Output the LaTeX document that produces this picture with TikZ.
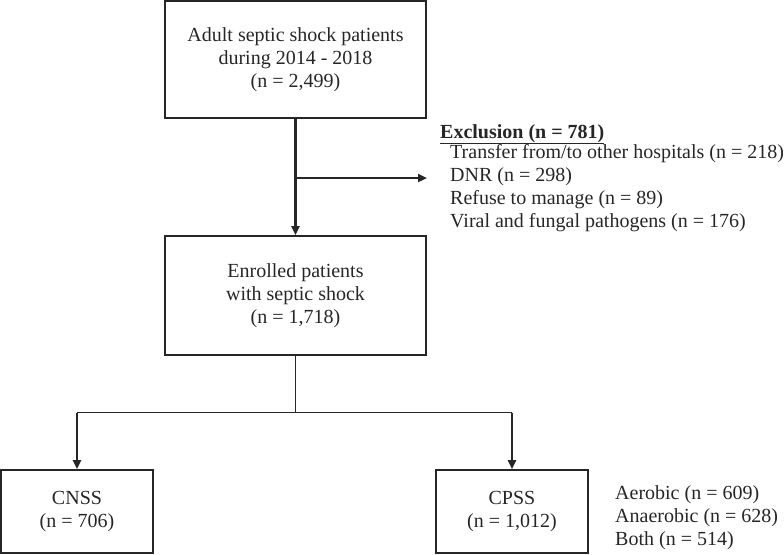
\documentclass[tikz,border=0pt]{standalone}
\usepackage{fontspec}
\setmainfont{Liberation Serif}
\usetikzlibrary{arrows.meta}
\definecolor{ink}{HTML}{262626}
\begin{document}
\begin{tikzpicture}[x=1pt,y=-1pt,
  box/.style={draw=ink, line width=1.8pt, inner sep=0pt, align=center, text=ink,
    font=\fontsize{20}{23}\selectfont},
  txt/.style={inner sep=0pt, text=ink, font=\fontsize{20}{23}\selectfont},
  arr/.style={draw=ink, line width=2.5pt, -{Triangle[length=9pt,width=8pt]}},
  conn/.style={draw=ink, line width=1.8pt},
  thinconn/.style={draw=ink, line width=1pt}]
\useasboundingbox (0,0) rectangle (784,554);

% boxes
\node[box, minimum width=261pt, minimum height=117pt] (top) at (295.5,59.5)
  {Adult septic shock patients\\during 2014 - 2018\\(n = 2,499)};
\node[box, minimum width=261pt, minimum height=119pt] (mid) at (295.5,295.5)
  {Enrolled patients\\with septic shock\\(n = 1,718)};
\node[box, minimum width=152pt, minimum height=83pt] (cnss) at (77,511.5)
  {CNSS\\(n = 706)};
\node[box, minimum width=152pt, minimum height=83pt] (cpss) at (512,511.5)
  {CPSS\\(n = 1,012)};

% exclusion text
\node[txt, anchor=base west] (exh) at (440,138) {\textbf{\underline{Exclusion (n = 781)}}};
\node[txt, anchor=base west] (ex1) at (450,158) {Transfer from/to other hospitals (n = 218)};
\node[txt, anchor=base west] (ex2) at (450,181) {DNR (n = 298)};
\node[txt, anchor=base west] (ex3) at (450,204) {Refuse to manage (n = 89)};
\node[txt, anchor=base west] (ex4) at (450,227) {Viral and fungal pathogens (n = 176)};

% side text
\node[txt, anchor=base west] (ae) at (615,499) {Aerobic (n = 609)};
\node[txt, anchor=base west] (an) at (615,522) {Anaerobic (n = 628)};
\node[txt, anchor=base west] (bo) at (615,545) {Both (n = 514)};

% connectors
\coordinate (j1) at (top.south |- 0,178);
\coordinate (exc) at (427,178);
\draw[arr] (top.south) -- (mid.north);
\draw[arr] (j1) -- (exc);

\coordinate (j2) at (mid.south |- 0,412.5);
\draw[thinconn] (mid.south) -- (j2);
\draw[conn] (cnss.north |- j2) -- (cpss.north |- j2);
\draw[arr] (cnss.north |- j2) -- (cnss.north);
\draw[arr] (cpss.north |- j2) -- (cpss.north);
\end{tikzpicture}
\end{document}
